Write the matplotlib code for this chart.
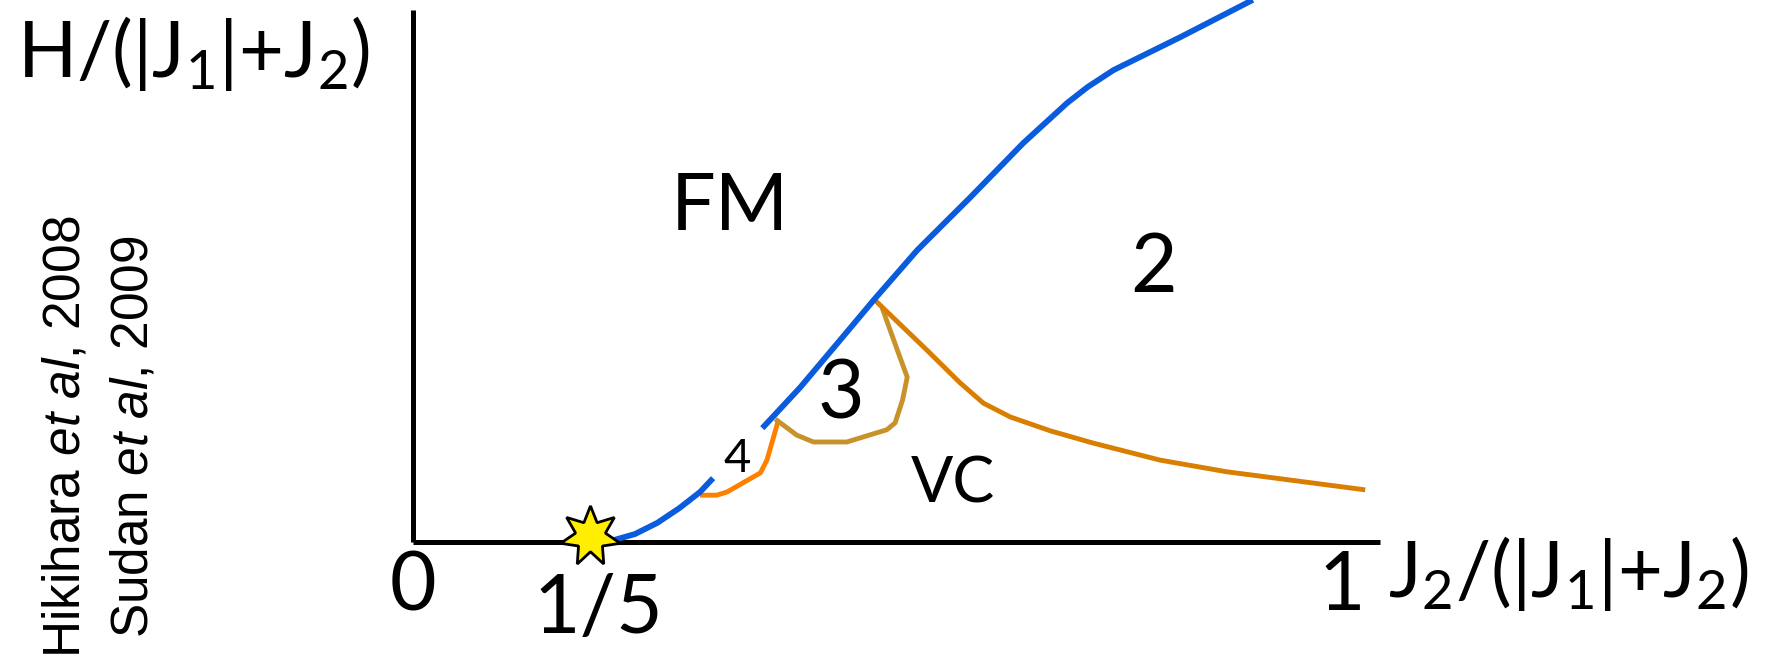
import matplotlib
matplotlib.use('Agg')
import matplotlib.pyplot as plt

plt.rcParams['font.family'] = ['Lato', 'DejaVu Sans']
plt.rcParams['mathtext.fontset'] = 'custom'
plt.rcParams['mathtext.rm'] = 'Lato'
plt.rcParams['mathtext.it'] = 'Liberation Sans:italic'

# phase boundaries, x = J2/(|J1|+J2), y = H/(|J1|+J2) (schematic units)
sat_low_x = [0.198, 0.217, 0.239, 0.263, 0.287, 0.309, 0.323]
sat_low_y = [0.000, 0.004, 0.015, 0.036, 0.064, 0.094, 0.120]

sat_high_x = [0.376, 0.417, 0.460, 0.497, 0.543, 0.600, 0.657, 0.704, 0.726, 0.754, 0.826, 0.904]
sat_high_y = [0.214, 0.291, 0.380, 0.457, 0.549, 0.648, 0.750, 0.825, 0.855, 0.887, 0.949, 1.019]

quad4_x = [0.309, 0.327, 0.338, 0.357, 0.374, 0.381, 0.393]
quad4_y = [0.088, 0.088, 0.094, 0.113, 0.130, 0.154, 0.227]

triad3_x = [0.390, 0.413, 0.431, 0.467, 0.510, 0.519, 0.527, 0.532, 0.524, 0.505]
triad3_y = [0.231, 0.201, 0.188, 0.188, 0.211, 0.224, 0.267, 0.310, 0.348, 0.440]

vc_x = [0.497, 0.553, 0.589, 0.614, 0.643, 0.686, 0.732, 0.804, 0.876, 1.025]
vc_y = [0.455, 0.361, 0.299, 0.261, 0.235, 0.209, 0.186, 0.154, 0.132, 0.098]

crit_x, crit_y = 0.19, 0.012

tick_pos = [0, 0.2, 1]
tick_text = ['0', '1/5', '1']
tick_base = [-0.128, -0.171, -0.128]

region_names = ['FM', '2', '3', '4', 'VC']
region_x = [0.341, 0.797, 0.461, 0.349, 0.581]
region_y = [0.586, 0.470, 0.233, 0.132, 0.075]
region_size = [57, 58, 58, 34, 45]

W, H = 1781, 666
fig = plt.figure(figsize=(W / 100, H / 100), dpi=100)
ax = fig.add_axes([413 / W, 124 / H, 967 / W, 532 / H])
ax.set_xlim(0, 967 / 929)
ax.set_ylim(0, 1)
for side in ['top', 'right']:
    ax.spines[side].set_visible(False)
for side in ['left', 'bottom']:
    ax.spines[side].set_linewidth(3.6)
    ax.spines[side].set_capstyle('butt')
ax.set_xticks([])
ax.set_yticks([])

line_kw = dict(solid_capstyle='butt', solid_joinstyle='round')
ax.plot(sat_low_x, sat_low_y, color='#0A5CDC', lw=4.2, clip_on=False,
        zorder=3, **line_kw)
ax.plot(sat_high_x, sat_high_y, color='#0A5CDC', lw=4.2, clip_on=False,
        zorder=3, **line_kw)
ax.plot(quad4_x, quad4_y, color='#FF8000', lw=3.5, zorder=2, **line_kw)
ax.plot(triad3_x, triad3_y, color='#C8922A', lw=3.5, zorder=2, **line_kw)
ax.plot(vc_x, vc_y, color='#D97E00', lw=3.5, zorder=2, **line_kw)

ax.plot([crit_x], [crit_y], marker=(7, 1, 0), markersize=44, color='#FFEE00',
        markeredgecolor='black', markeredgewidth=2, clip_on=False, zorder=5)

for x, t, b in zip(tick_pos, tick_text, tick_base):
    ax.text(x, b, t, fontsize=58, ha='center', va='baseline', clip_on=False)

for name, x, y, s in zip(region_names, region_x, region_y, region_size):
    ax.text(x, y, name, fontsize=s, ha='center', va='baseline')

ax.text(1.049, -0.103, r'J$_2$/(|J$_1$|+J$_2$)', fontsize=56, ha='left',
        va='baseline', clip_on=False)
fig.text(17 / W, 1 - 77 / H, r'H/(|J$_1$|+J$_2$)', fontsize=56, ha='left',
         va='baseline')

fig.text(100 / W, 1 - 437 / H,
         'Hikihara $\\it{et\\ al}$, 2008\nSudan $\\it{et\\ al}$, 2009',
         fontsize=37, family='Liberation Sans', rotation=90, ha='center',
         va='center', multialignment='center', linespacing=1.5)

fig.savefig('out.png', dpi=100)
